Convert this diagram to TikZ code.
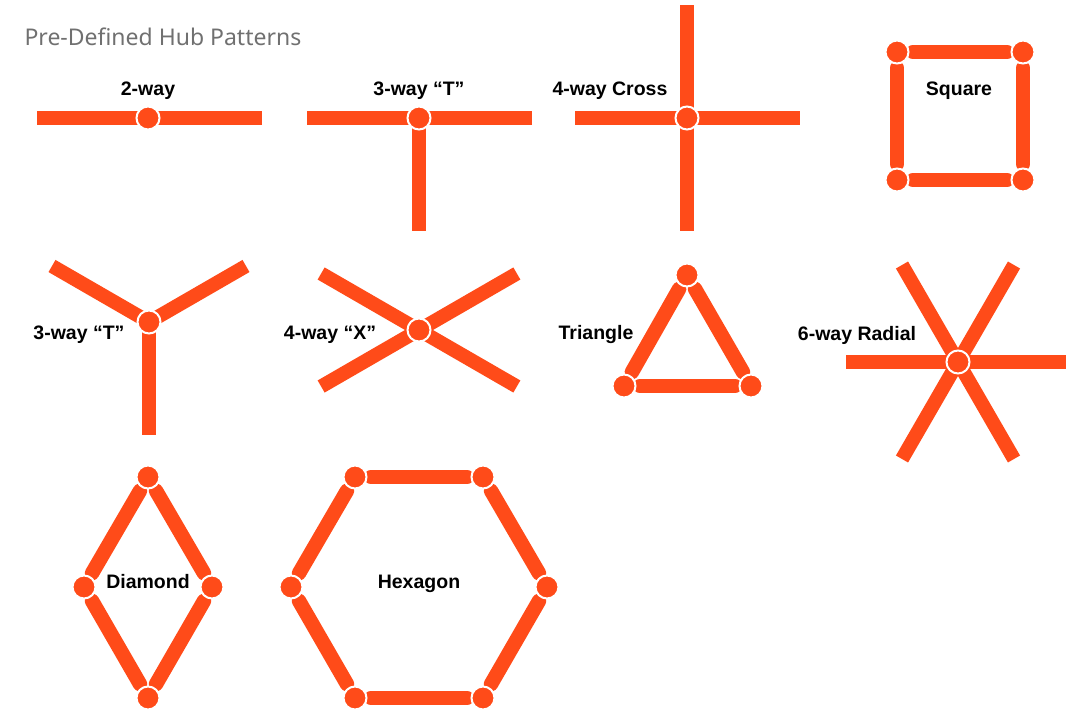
\documentclass[tikz,border=0pt]{standalone}
\usepackage{fontspec}
\setmainfont{Liberation Sans}
\newfontfamily\titlefont{Noto Sans}
\usetikzlibrary{calc,backgrounds}
\definecolor{HubOrange}{RGB}{255,75,25}
\definecolor{TitleGray}{RGB}{112,112,112}

\begin{document}
\begin{tikzpicture}[x=1pt, y=-1pt,
    hub/.style={circle, fill=HubOrange, draw=white, line width=2pt, minimum size=23pt, inner sep=0pt},
    arm/.style={HubOrange, line width=14pt, line cap=butt, shorten <=-5pt},
    ringbar/.style={HubOrange, line width=14.5pt, line cap=round, shorten <=3.5pt, shorten >=3.5pt},
    lbl/.style={anchor=base, font=\bfseries\fontsize{19.5}{20}\selectfont}]
    \useasboundingbox (0,0) rectangle (1066,712);

    % Title
    \node[anchor=base west, TitleGray, font=\titlefont\fontsize{23}{25}\selectfont] (title) at (21,45) {Pre-Defined Hub Patterns};

    % Row 1: 2-way, 3-way T, 4-way cross, square
    \node[hub] (twoh) at (148,118) {};
    \coordinate (twow) at (37,118);
    \coordinate (twoe) at (262,118);
    \node[lbl] (twolbl) at (148,95) {2-way};

    \node[hub] (teeh) at (419,118) {};
    \coordinate (teew) at (307,118);
    \coordinate (teee) at (532,118);
    \coordinate (tees) at (419,231);
    \node[lbl] (teelbl) at (419,95) {3-way “T”};

    \node[hub] (crossh) at (687,118) {};
    \coordinate (crossw) at (575,118);
    \coordinate (crosse) at (800,118);
    \coordinate (crossn) at (687,5);
    \coordinate (crosss) at (687,231);
    \node[lbl] (crosslbl) at (610,95) {4-way Cross};

    \node[hub] (sqa) at (897,52) {};
    \node[hub] (sqb) at (1023,52) {};
    \node[hub] (sqc) at (1023,180) {};
    \node[hub] (sqd) at (897,180) {};
    \node[lbl] (sqlbl) at (959,95) {Square};

    % Row 2: 3-way Y, 4-way X, triangle, 6-way radial
    \node[hub] (yh) at (149,322) {};
    \coordinate (ya) at ($(yh)+(150:112pt)$);
    \coordinate (yb) at ($(yh)+(30:112pt)$);
    \coordinate (yc) at ($(yh)+(-90:113pt)$);
    \node[lbl] (ylbl) at (79,339) {3-way “T”};

    \node[hub] (xh) at (419,330) {};
    \coordinate (xa) at ($(xh)+(30:113pt)$);
    \coordinate (xb) at ($(xh)+(150:113pt)$);
    \coordinate (xc) at ($(xh)+(210:113pt)$);
    \coordinate (xd) at ($(xh)+(330:113pt)$);
    \node[lbl] (xlbl) at (330,339) {4-way “X”};

    \node[hub] (tria) at (687,275) {};
    \node[hub] (trib) at (751,386) {};
    \node[hub] (tric) at (624,386) {};
    \node[lbl] (trilbl) at (596,339) {Triangle};

    \node[hub] (radh) at (958,362) {};
    \coordinate (rada) at ($(radh)+(0:110pt)$);
    \coordinate (radb) at ($(radh)+(60:112pt)$);
    \coordinate (radc) at ($(radh)+(120:112pt)$);
    \coordinate (radd) at ($(radh)+(180:112pt)$);
    \coordinate (rade) at ($(radh)+(240:112pt)$);
    \coordinate (radf) at ($(radh)+(300:112pt)$);
    \node[lbl] (radlbl) at (857,340) {6-way Radial};

    % Row 3: diamond, hexagon
    \node[hub] (dia) at (148,477) {};
    \node[hub] (dib) at (212,587) {};
    \node[hub] (dic) at (148,698) {};
    \node[hub] (did) at (84,587) {};
    \node[lbl] (dilbl) at (148,588) {Diamond};

    \node[hub] (hxa) at (355,477) {};
    \node[hub] (hxb) at (483,477) {};
    \node[hub] (hxc) at (547,587) {};
    \node[hub] (hxd) at (483,698) {};
    \node[hub] (hxe) at (355,698) {};
    \node[hub] (hxf) at (291,587) {};
    \node[lbl] (hxlbl) at (419,588) {Hexagon};

    % Bars go behind the hubs
    \begin{scope}[on background layer]
        \draw[arm] (twoh) -- (twow);
        \draw[arm] (twoh) -- (twoe);
        \draw[arm] (teeh) -- (teew);
        \draw[arm] (teeh) -- (teee);
        \draw[arm] (teeh) -- (tees);
        \draw[arm] (crossh) -- (crossw);
        \draw[arm] (crossh) -- (crosse);
        \draw[arm] (crossh) -- (crossn);
        \draw[arm] (crossh) -- (crosss);
        \draw[ringbar] (sqa) -- (sqb);
        \draw[ringbar] (sqb) -- (sqc);
        \draw[ringbar] (sqc) -- (sqd);
        \draw[ringbar] (sqd) -- (sqa);

        \draw[arm] (yh) -- (ya);
        \draw[arm] (yh) -- (yb);
        \draw[arm] (yh) -- (yc);
        \draw[arm] (xh) -- (xa);
        \draw[arm] (xh) -- (xb);
        \draw[arm] (xh) -- (xc);
        \draw[arm] (xh) -- (xd);
        \draw[ringbar] (tria) -- (trib);
        \draw[ringbar] (trib) -- (tric);
        \draw[ringbar] (tric) -- (tria);
        \draw[arm] (radh) -- (rada);
        \draw[arm] (radh) -- (radb);
        \draw[arm] (radh) -- (radc);
        \draw[arm] (radh) -- (radd);
        \draw[arm] (radh) -- (rade);
        \draw[arm] (radh) -- (radf);

        \draw[ringbar] (dia) -- (dib);
        \draw[ringbar] (dib) -- (dic);
        \draw[ringbar] (dic) -- (did);
        \draw[ringbar] (did) -- (dia);
        \draw[ringbar] (hxa) -- (hxb);
        \draw[ringbar] (hxb) -- (hxc);
        \draw[ringbar] (hxc) -- (hxd);
        \draw[ringbar] (hxd) -- (hxe);
        \draw[ringbar] (hxe) -- (hxf);
        \draw[ringbar] (hxf) -- (hxa);
    \end{scope}
\end{tikzpicture}
\end{document}
